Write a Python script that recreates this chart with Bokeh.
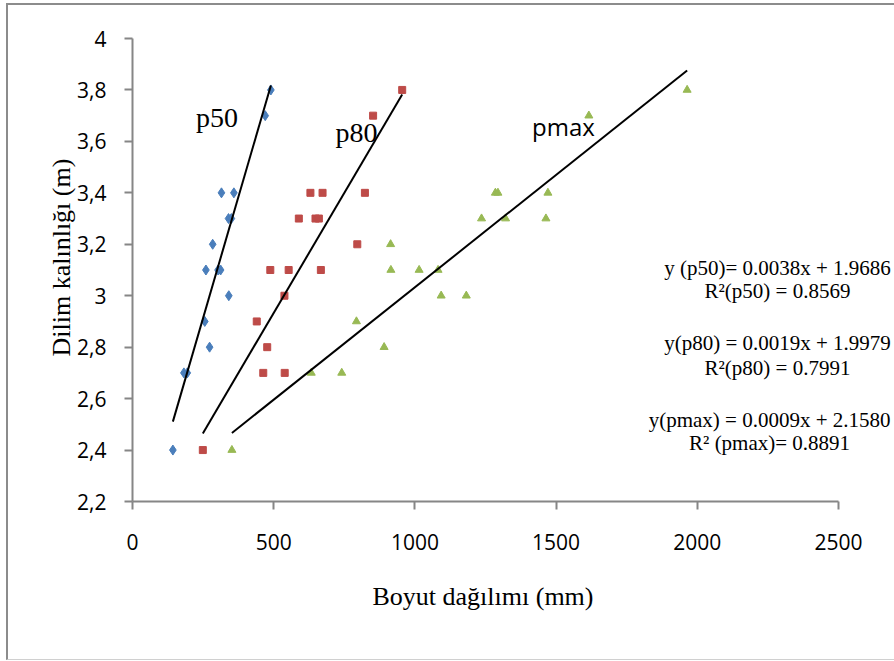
import numpy as np
from bokeh.plotting import figure
from bokeh.models import Range1d, FixedTicker, CustomJSTickFormatter, Label, Title
from bokeh.embed import file_html
from bokeh.resources import INLINE

# ---- data ----
p50_x = [143, 182, 194, 273, 256, 341, 260, 303, 312, 284, 340, 350, 315, 359, 470, 490]
p50_y = [2.4, 2.7, 2.7, 2.8, 2.9, 3.0, 3.1, 3.1, 3.1, 3.2, 3.3, 3.3, 3.4, 3.4, 3.7, 3.8]

p80_x = [249, 463, 539, 477, 440, 538, 488, 553, 667, 796, 589, 648, 660, 630, 673, 823, 852, 955]
p80_y = [2.4, 2.7, 2.7, 2.8, 2.9, 3.0, 3.1, 3.1, 3.1, 3.2, 3.3, 3.3, 3.3, 3.4, 3.4, 3.4, 3.7, 3.8]

pmax_x = [352, 633, 741, 891, 793, 1093, 1182, 915, 1015, 1082, 914, 1236, 1321, 1464,
          1285, 1294, 1471, 1616, 1964]
pmax_y = [2.4, 2.7, 2.7, 2.8, 2.9, 3.0, 3.0, 3.1, 3.1, 3.1, 3.2, 3.3, 3.3, 3.3,
          3.4, 3.4, 3.4, 3.7, 3.8]

x_ticks = [0, 500, 1000, 1500, 2000, 2500]
x_labels = ["0", "500", "1000", "1500", "2000", "2500"]
y_ticks = [2.2, 2.4, 2.6, 2.8, 3.0, 3.2, 3.4, 3.6, 3.8, 4.0]
y_labels = ["2,2", "2,4", "2,6", "2,8", "3", "3,2", "3,4", "3,6", "3,8", "4"]

x_title = "Boyut da\u011f\u0131l\u0131m\u0131 (mm)"
y_title = "Dilim kal\u0131nl\u0131\u011f\u0131 (m)"

eq_lines = ["y (p50)= 0.0038x + 1.9686", "R\u00b2(p50) = 0.8569",
            "y(p80) = 0.0019x + 1.9979", "R\u00b2(p80) = 0.7991",
            "y(pmax) = 0.0009x + 2.1580", "R\u00b2 (pmax)= 0.8891"]

# ---- figure ----
X_MAX = 2500
FRAME_W_AXIS = 706          # pixels spanned by 0..2500
FRAME_W = 762               # frame extends to the right edge so labels are not clipped
p = figure(width=886, height=654, output_backend="svg", toolbar_location=None,
           x_range=Range1d(0, X_MAX * FRAME_W / FRAME_W_AXIS), y_range=Range1d(2.2, 4.0),
           frame_width=FRAME_W, frame_height=463,
           min_border_left=124, min_border_right=0, min_border_top=33,
           min_border_bottom=158)
p.styles = {"margin-left": "6px", "margin-top": "3px",
            "border-left": "2px solid #8c8c8c", "border-top": "2px solid #8c8c8c",
            "border-bottom": "1px solid #d0d0d0"}
p.outline_line_color = None
p.xgrid.visible = False
p.ygrid.visible = False
p.background_fill_color = "white"
p.border_fill_color = "white"

tick_font = "Open Sans"
serif = "Liberation Serif"
axis_col = "#868686"

for ax in (p.xaxis[0], p.yaxis[0]):
    ax.axis_line_color = axis_col
    ax.axis_line_width = 2
    ax.major_tick_line_color = axis_col
    ax.major_tick_line_width = 2
    ax.major_tick_out = 8
    ax.major_tick_in = 0
    ax.minor_tick_line_color = None
    ax.major_label_text_font = tick_font
    ax.major_label_text_font_size = "21px"
    ax.major_label_text_color = "black"

fmt_code = ("const i = tv.findIndex(t => Math.abs(t - tick) < 1e-6); "
            "return i >= 0 ? tl[i] : '';")
p.xaxis.ticker = FixedTicker(ticks=x_ticks)
p.xaxis.bounds = (0, X_MAX)
p.xaxis.formatter = CustomJSTickFormatter(args=dict(tv=x_ticks, tl=x_labels), code=fmt_code)
p.yaxis.ticker = FixedTicker(ticks=y_ticks)
p.yaxis.formatter = CustomJSTickFormatter(args=dict(tv=y_ticks, tl=y_labels), code=fmt_code)
p.xaxis.major_label_standoff = 24
p.yaxis.major_label_standoff = 18

# axis titles (as titles so they can be centred on the axis, not on the wider frame)
p.add_layout(Title(text=x_title, align="left", offset=240, standoff=54,
                   text_font=serif, text_font_size="26px", text_font_style="normal",
                   text_color="black"), "below")
p.add_layout(Title(text=y_title, align="left", offset=145, standoff=-3,
                   text_font=serif, text_font_size="26px", text_font_style="normal",
                   text_color="black"), "left")

# ---- points ----
p.scatter(p50_x, p50_y, marker="diamond", size=10, color="#4a7ebb")
p.scatter(p80_x, p80_y, marker="square", size=7, color="#be4b48")
p.scatter(pmax_x, pmax_y, marker="triangle", size=8, color="#98b954")

# ---- trend lines (least squares through the points) ----
for xs, ys in ((p50_x, p50_y), (p80_x, p80_y), (pmax_x, pmax_y)):
    k, b = np.polyfit(xs, ys, 1)
    x0, x1 = min(xs), max(xs)
    p.line([x0, x1], [k * x0 + b, k * x1 + b], line_color="black", line_width=2)

# ---- series labels ----
p.add_layout(Label(x=225, y=3.691, text="p50", text_font=serif, text_font_size="28px",
                   text_color="black", text_baseline="alphabetic"))
p.add_layout(Label(x=719, y=3.633, text="p80", text_font=serif, text_font_size="28px",
                   text_color="black", text_baseline="alphabetic"))
p.add_layout(Label(x=1415, y=3.656, text="pmax", text_font="Open Sans",
                   text_font_size="24px", text_color="black", text_baseline="alphabetic"))

# ---- equation texts ----
eq_x = [2284, 2284, 2284, 2284, 2256, 2256]
eq_y = [3.108, 3.020, 2.817, 2.719, 2.518, 2.427]
for t, xx, yy in zip(eq_lines, eq_x, eq_y):
    p.add_layout(Label(x=xx, y=yy, text=t, text_font=serif, text_font_size="21px",
                       text_color="black", text_align="center", text_baseline="alphabetic"))

open("out.html", "w").write(file_html(p, INLINE))
